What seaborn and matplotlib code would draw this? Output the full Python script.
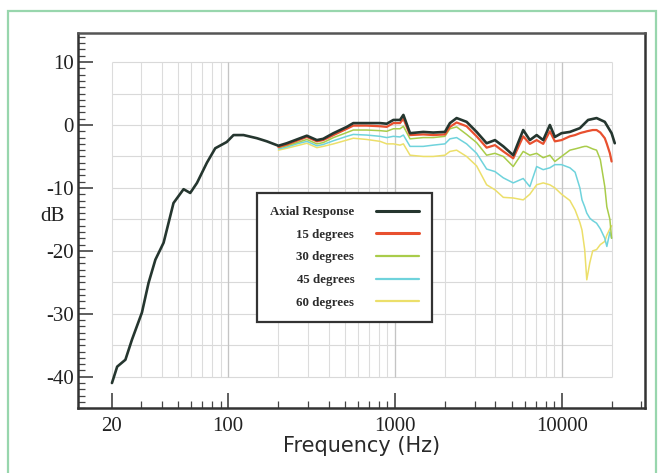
import numpy as np
import pandas as pd
import matplotlib
matplotlib.use("Agg")
import matplotlib.pyplot as plt
from matplotlib.lines import Line2D
from matplotlib.patches import Rectangle
from matplotlib.ticker import FixedLocator, NullFormatter, MultipleLocator
import seaborn as sns

# ---------------- data ----------------
freq_axial = [20.1, 21.6, 24.2, 26.5, 30.4, 33.3, 36.6, 41.0, 47.0, 54.0, 59.2, 65.0,
              74.5, 83.6, 98, 107.6, 123.5, 148.6, 170.6,
              200, 224.5, 257.8, 296, 340, 370.7, 427.6, 514, 562, 677, 813, 892, 977,
              1071, 1122, 1230, 1476, 1694, 1991, 2133, 2339, 2685, 3083, 3540, 3972,
              4457, 5108, 5865, 6427, 7060, 7727, 8472, 9078, 9954,
              11170, 12820, 14360, 16140, 18080, 19860, 20750]
db_axial = [-41.0, -38.4, -37.3, -34.1, -29.8, -25.1, -21.4, -18.7, -12.4, -10.2, -10.8, -9.2,
            -6.0, -3.7, -2.7, -1.6, -1.6, -2.1, -2.6,
            -3.3, -2.9, -2.3, -1.7, -2.4, -2.2, -1.3, -0.3, 0.3, 0.3, 0.3, 0.2, 0.8,
            0.8, 1.6, -1.3, -1.1, -1.2, -1.1, 0.3, 1.1, 0.5, -1.1, -2.9, -2.4,
            -3.4, -4.8, -0.8, -2.4, -1.6, -2.4, 0.0, -1.9, -1.3,
            -1.1, -0.5, 0.8, 1.1, 0.5, -1.3, -2.9]

freq_off = [200, 224.5, 257.8, 296, 340, 370.7, 427.6, 514, 562, 677, 813, 892, 977,
            1071, 1122, 1230, 1476, 1694, 1991, 2133, 2339, 2685, 3083, 3540, 3972,
            4457, 5108, 5865, 6427, 7060, 7727, 8472, 9078, 9954,
            11170, 12000, 12820, 13200, 13700, 14100, 14700, 15300, 16140, 17000,
            18080, 18600, 19400, 19860]
db_15 = [-3.5, -3.1, -2.5, -1.9, -2.6, -2.4, -1.6, -0.6, -0.1, -0.1, -0.2, -0.3, 0.3,
         0.3, 1.0, -1.6, -1.5, -1.6, -1.5, -0.3, 0.4, -0.2, -1.8, -3.6, -3.2,
         -4.2, -5.3, -1.8, -3.0, -2.4, -3.0, -1.0, -2.6, -2.4,
         -1.8, -1.6, -1.3, -1.2, -1.1, -1.0, -0.9, -0.8, -0.8, -1.2,
         -2.1, -3.0, -4.5, -5.8]
db_30 = [-3.6, -3.3, -2.8, -2.3, -3.0, -2.8, -2.0, -1.2, -0.8, -0.8, -0.9, -1.0, -0.6,
         -0.6, -0.2, -2.2, -2.0, -2.0, -1.8, -0.6, -0.3, -1.5, -2.8, -4.8, -4.5,
         -5.0, -6.6, -4.2, -4.8, -4.5, -5.2, -4.8, -5.8, -5.0,
         -4.0, -3.8, -3.6, -3.5, -3.4, -3.4, -3.6, -3.8, -4.0, -5.5,
         -9.8, -13.0, -15.0, -18.0]
db_45 = [-3.8, -3.5, -3.0, -2.6, -3.3, -3.1, -2.5, -1.8, -1.5, -1.6, -1.8, -2.0, -1.8,
         -1.9, -1.6, -3.4, -3.4, -3.2, -3.0, -2.2, -2.0, -3.0, -4.5, -7.0, -7.4,
         -8.4, -9.2, -8.5, -9.8, -6.6, -7.1, -6.8, -6.3, -6.3,
         -6.8, -7.5, -10.0, -11.9, -13.0, -14.0, -14.8, -15.2, -15.6, -16.5,
         -18.0, -19.3, -17.0, -18.0]
db_60 = [-4.0, -3.7, -3.3, -2.9, -3.6, -3.4, -3.0, -2.4, -2.1, -2.3, -2.6, -3.0, -3.0,
         -3.2, -3.0, -4.8, -5.0, -5.0, -4.8, -4.2, -4.0, -5.0, -6.5, -9.5, -10.3,
         -11.5, -11.6, -11.9, -11.0, -9.5, -9.2, -9.5, -10.0, -11.0,
         -12.0, -13.5, -15.5, -16.7, -19.8, -24.6, -21.9, -20.0, -19.8, -19.0,
         -18.5, -17.5, -16.5, -16.0]

series_names = ["Axial Response", "15 degrees", "30 degrees", "45 degrees", "60 degrees"]
series_colors = ["#25362f", "#e8502f", "#a9cc4a", "#6fd3dc", "#ecdf6a"]
series_widths = [1.9, 1.6, 1.1, 1.1, 1.1]

x_major = [20, 100, 1000, 10000]
x_major_labels = ["20", "100", "1000", "10000"]
y_major = [-40, -30, -20, -10, 0, 10]
grid_db = [-40, -35, -30, -25, -20, -15, -10, -5, 0, 5, 10]

# ---------------- build long-form table ----------------
frames = [pd.DataFrame({"freq": freq_axial, "db": db_axial, "series": series_names[0]})]
for name, vals in zip(series_names[1:], [db_15, db_30, db_45, db_60]):
    frames.append(pd.DataFrame({"freq": freq_off, "db": vals, "series": name}))
df = pd.concat(frames, ignore_index=True)

# ---------------- style ----------------
sns.set_theme(style="white")
plt.rcParams["axes.unicode_minus"] = False
plt.rcParams["font.family"] = ["Liberation Serif", "DejaVu Serif"]

fig = plt.figure(figsize=(6.62, 4.73), dpi=100)
fig.patch.set_facecolor("white")
ax = fig.add_axes([0.118, 0.137, 0.856, 0.793])
ax.set_facecolor("white")

# log-decade grid positions, restricted to the measurement range
grid_freq = []
for dec in [10, 100, 1000, 10000]:
    for m in range(1, 10):
        f = m * dec
        if 20 <= f <= 20000:
            grid_freq.append(f)
minor_freq = [f for f in grid_freq if f not in x_major] + [30000]
ax.hlines(grid_db, 20, 20000, colors="#d9d9d9", linewidth=0.8, zorder=0)
ax.vlines(grid_freq, -40, 10, colors="#dcdcdc", linewidth=0.8, zorder=0)
ax.vlines([100, 1000, 10000], -40, 10, colors="#c4c4c4", linewidth=0.9, zorder=0)

palette = dict(zip(series_names, series_colors))
for name in series_names[::-1]:
    sub = df[df["series"] == name]
    sns.lineplot(data=sub, x="freq", y="db", color=palette[name],
                 linewidth=series_widths[series_names.index(name)],
                 sort=False, estimator=None, ax=ax, legend=False, zorder=3)

ax.set_xscale("log")
ax.set_xlim(12.6, 31400)
ax.set_ylim(-45, 14.6)

ax.xaxis.set_major_locator(FixedLocator(x_major))
ax.set_xticklabels(x_major_labels)
ax.xaxis.set_minor_locator(FixedLocator(minor_freq))
ax.xaxis.set_minor_formatter(NullFormatter())
ax.yaxis.set_major_locator(FixedLocator(y_major))
ax.yaxis.set_minor_locator(MultipleLocator(1))

ax.tick_params(axis="both", which="both", bottom=True, left=True, top=False, right=False)
ax.tick_params(axis="both", which="major", direction="in", length=11, width=1.1,
               color="#333333", labelsize=15, labelcolor="#222222")
ax.tick_params(axis="both", which="minor", direction="in", length=5, width=0.9,
               color="#444444")
ax.tick_params(axis="y", which="major", pad=3)
ax.tick_params(axis="x", which="major", pad=6)

for side in ["left", "right", "top", "bottom"]:
    ax.spines[side].set_visible(True)
    ax.spines[side].set_color("#333333")
    ax.spines[side].set_linewidth(1.8)
ax.spines["top"].set_color("#555555")

ax.set_xlabel("Frequency (Hz)", family=["DejaVu Sans"], fontsize=15,
              color="#2a2a2a", labelpad=0)
ax.set_ylabel("dB", rotation=0, fontsize=15, color="#222222", ha="center", va="center")
ax.yaxis.set_label_coords(-0.046, 0.51)

handles = [Line2D([0], [0], color=c, linewidth=2.2 if i < 2 else 1.6)
           for i, c in enumerate(series_colors)]
leg = ax.legend(handles, series_names, loc="upper left", bbox_to_anchor=(0.316, 0.573),
                markerfirst=False, frameon=True, fancybox=False, handlelength=3.3,
                labelspacing=0.82, borderpad=1.0, handletextpad=1.7, borderaxespad=0,
                prop={"family": "Liberation Serif", "weight": "bold", "size": 9.3})
leg.get_frame().set_edgecolor("#333333")
leg.get_frame().set_linewidth(1.6)
leg.get_frame().set_facecolor("white")
leg.get_frame().set_alpha(1)
leg.set_zorder(5)
for t in leg.get_texts():
    t.set_color("#2b2b2b")

# scanned-page green border
fig.patches.append(Rectangle((0.012, -0.05), 0.979, 1.027, transform=fig.transFigure,
                             fill=False, edgecolor="#98d6ad", linewidth=1.6, zorder=0))

fig.savefig("out.png", dpi=100, facecolor="white")
